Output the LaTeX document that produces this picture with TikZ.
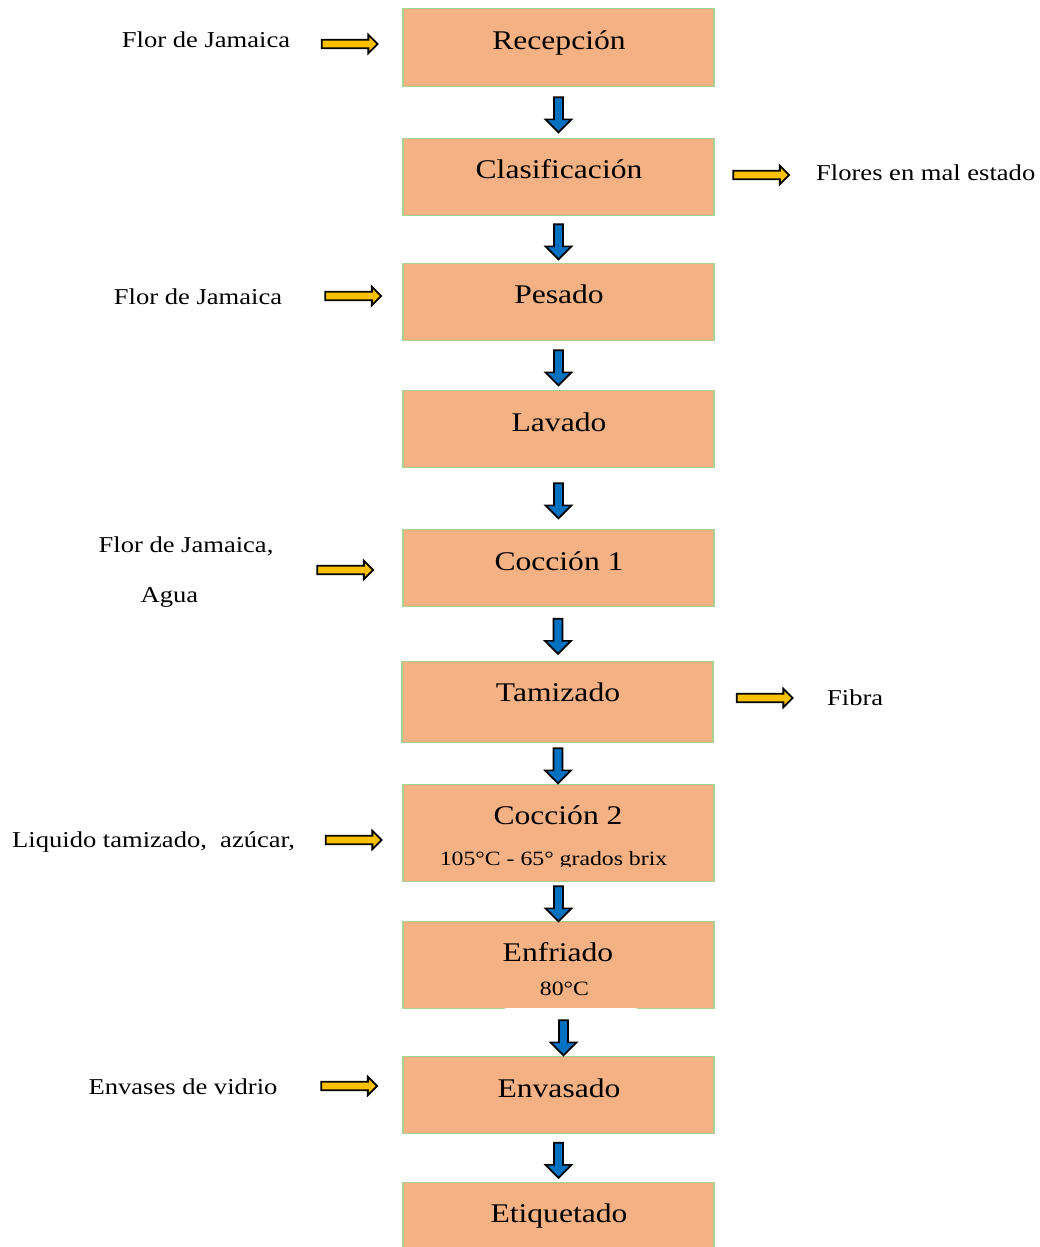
\documentclass[tikz,border=0pt]{standalone}
\usepackage{fontspec}
\setmainfont{Liberation Serif}[FakeStretch=1.17]
\usetikzlibrary{shapes.arrows,calc}
\definecolor{boxfill}{HTML}{F4B183}
\definecolor{boxline}{HTML}{A9D18E}
\definecolor{flowblue}{HTML}{0070C0}
\definecolor{sidegold}{HTML}{FFC000}
\tikzset{
  stage/.style={draw=boxline, line width=1.2pt, fill=boxfill, minimum width=311pt,
    inner sep=0pt, anchor=north},
  stagetext/.style={anchor=base, inner sep=0pt, font=\fontsize{27}{30}\selectfont},
  subtext/.style={anchor=base, inner sep=0pt, font=\fontsize{20.3}{24}\selectfont},
  sidetext/.style={anchor=base, inner sep=0pt, font=\fontsize{22.7}{26}\selectfont},
  sidetextw/.style={sidetext, anchor=base west},
  downarrow/.style={single arrow, draw=black, line width=1.7pt, fill=flowblue,
    rotate=-90, minimum height=35pt, inner sep=3.6pt, single arrow head extend=8.5pt},
  sidearrow/.style={single arrow, draw=black, line width=1.8pt, fill=sidegold,
    minimum height=56pt, inner sep=3.4pt, single arrow head extend=5pt}
}
\begin{document}
\begin{tikzpicture}[x=1pt, y=-1pt]
\useasboundingbox (0,0) rectangle (1040,1247);

% process stages
\node[stage, minimum height=78pt] (b1) at (558.5,8) {};
\node[stage, minimum height=77pt] (b2) at (558.5,138) {};
\node[stage, minimum height=77pt] (b3) at (558.5,263) {};
\node[stage, minimum height=77pt] (b4) at (558.5,390) {};
\node[stage, minimum height=77pt] (b5) at (558.5,529) {};
\node[stage, minimum height=81pt] (b6) at (557.5,661) {};
\node[stage, minimum height=97pt] (b7) at (558.5,784) {};
\node[stage, minimum height=87pt] (b8) at (558.5,921) {};
\node[stage, minimum height=77pt] (b9) at (558.5,1056) {};
\node[stage, minimum height=80pt] (b10) at (558.5,1182) {};

% stage labels
\node[stagetext] (t1) at (559,49) {Recepción};
\node[stagetext] (t2) at (559,178) {Clasificación};
\node[stagetext] (t3) at (559,303) {Pesado};
\node[stagetext] (t4) at (559,431) {Lavado};
\node[stagetext] (t5) at (559,570) {Cocción 1};
\node[stagetext] (t6) at (558,701) {Tamizado};
\node[stagetext] (t7) at (558,824) {Cocción 2};
\begin{scope}
  \clip (403,784) rectangle (714,866.5);
  \node[subtext] (t7b) at (553.5,865) {105°C - 65° grados brix};
\end{scope}
\begin{scope}
  \clip (403,942.5) rectangle (714,1008);
  \node[stagetext] (t8) at (558,961) {Enfriado};
\end{scope}
\node[subtext] (t8b) at (564.5,995) {80°C};
\fill[white] (505,1007.6) rectangle (637,1010.6);
\node[stagetext] (t9) at (559,1097) {Envasado};
\node[stagetext] (t10) at (559,1222) {Etiquetado};

% flow arrows between stages
\node[downarrow] (d1) at ($(b1.south)!0.5!(b2.north)$) {};
\node[downarrow] (d2) at ($(b2.south)!0.5!(b3.north)$) {};
\node[downarrow] (d3) at ($(b3.south)!0.5!(b4.north)$) {};
\node[downarrow] (d4) at ($(b4.south)!0.5!(b5.north)$) {};
\node[downarrow] (d5) at ($(b5.south)!0.5!(b6.north)$) {};
\node[downarrow] (d6) at ($(b6.south)!0.5!(b7.north)$) {};
\node[downarrow] (d7) at ($(b7.south)!0.5!(b8.north)$) {};
\node[downarrow] (d8) at ($(b8.south)!0.5!(b9.north)+(5,3)$) {};
\node[downarrow] (d9) at ($(b9.south)!0.5!(b10.north)$) {};

% inputs and outputs
\node[sidetext] (s1) at (206,48) {Flor de Jamaica};
\node[sidearrow] (a1) at (347.5,44) {};
\node[sidearrow] (a2) at (759,175) {};
\node[sidetextw] (s2) at (816,180) {Flores en mal estado};
\node[sidetext] (s3) at (198,304) {Flor de Jamaica};
\node[sidearrow] (a3) at (351,296) {};
\node[sidetext] (s4) at (186,552) {Flor de Jamaica,};
\node[sidetext] (s4b) at (169.5,602) {Agua};
\node[sidearrow] (a4) at (343,570) {};
\node[sidearrow] (a5) at (762.5,698) {};
\node[sidetextw] (s5) at (827,705) {Fibra};
\node[sidetextw] (s6) at (12,847) {Liquido tamizado,\ \ azúcar,};
\node[sidearrow] (a6) at (351.5,840) {};
\node[sidetext] (s7) at (183,1094) {Envases de vidrio};
\node[sidearrow] (a7) at (347,1086) {};
\end{tikzpicture}
\end{document}
